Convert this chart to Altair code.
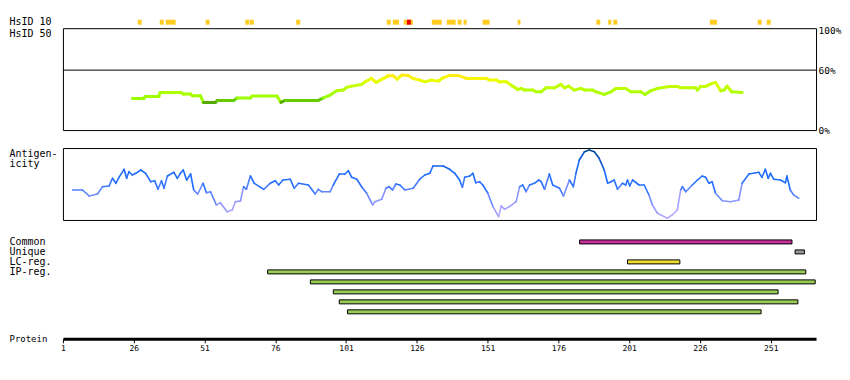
import altair as alt
import pandas as pd

FONT = "DejaVu Sans Mono"
W = 754
X_DOMAIN = [1, 267]

# ---- HsID 10 hits (residue ranges) ----
hs10_start = [27.4, 35.2, 37.3, 51.4, 65.4, 67.0, 83.4, 115.4, 117.5, 121.4, 131.3, 136.6,
              140.4, 142.5, 149.2, 161.6, 189.4, 193.6, 195.4, 229.5, 246.4, 249.6, 122.5]
hs10_end = [28.8, 36.6, 40.8, 52.8, 66.8, 68.4, 84.8, 116.8, 119.7, 124.6, 134.8, 139.7,
            141.8, 143.6, 151.7, 162.6, 190.8, 194.7, 196.8, 232.0, 247.8, 251.0, 123.9]
hs10_kind = ["hit"] * 22 + ["best"]

# ---- HsID 50 profile (% identity) ----
hs50_pos = [25.5, 29.6, 30.0, 34.9, 35.3, 42.5, 43.6, 46.1, 46.7, 49.6, 50.6, 54.9, 55.5, 61.3,
            62.5, 67.2, 67.8, 76.6, 78.0, 79.5, 91.2, 93.0, 95.4, 97.7, 100.0, 101.2, 103.0,
            106.5, 107.7, 110.0, 111.6, 113.6, 115.9, 117.7, 119.1, 120.6, 122.9, 124.7, 127.1,
            128.8, 131.2, 133.5, 135.3, 137.6, 140.5, 143.5, 150.5, 151.7, 154.1, 155.2, 157.6,
            159.3, 161.7, 162.9, 164.0, 167.0, 168.1, 169.9, 171.6, 174.6, 176.9, 178.1, 179.6,
            181.6, 184.0, 185.2, 188.1, 189.3, 192.2, 194.6, 196.3, 199.8, 201.6, 205.1, 206.6,
            208.6, 211.0, 215.1, 218.0, 219.2, 224.5, 225.1, 226.2, 228.0, 230.3, 231.5, 233.3,
            234.5, 235.6, 237.2, 240.9]
hs50_val = [31.7, 31.7, 33.7, 33.7, 37.7, 37.7, 36.0, 36.0, 34.3, 34.3, 27.7, 27.7, 29.7, 29.7,
            32.0, 32.0, 34.0, 34.0, 27.7, 29.7, 29.7, 32.3, 35.0, 39.3, 40.0, 42.7, 44.0,
            45.7, 48.3, 51.7, 47.7, 50.7, 54.3, 54.3, 51.0, 55.0, 54.7, 51.7, 50.0,
            48.3, 50.0, 49.0, 52.3, 54.7, 54.7, 51.7, 51.7, 50.0, 50.0, 48.3, 48.3,
            45.0, 40.7, 41.7, 40.0, 40.0, 38.3, 38.3, 42.3, 42.3, 45.7, 42.3, 44.0,
            40.0, 41.7, 40.0, 40.0, 38.3, 35.7, 38.3, 41.7, 41.7, 38.3, 38.3, 35.7,
            39.3, 41.7, 43.7, 43.7, 42.3, 42.3, 40.0, 43.7, 43.7, 46.7, 47.7, 39.3,
            40.0, 44.0, 38.3, 37.7]
hs50_ref = [60]
hs50_ticks = [0, 60, 100]

# ---- Antigenicity profile ----
ag_pos = [4.4, 7.9, 10.3, 13.2, 15.0, 17.3, 18.5, 19.7, 20.8, 22.6,
          23.5, 24.3, 25.5, 26.7, 28.5, 30.2, 32.0, 33.4, 34.6, 35.8,
          36.7, 37.9, 40.2, 41.4, 42.5, 43.5, 44.7, 46.1, 47.2, 48.6,
          50.5, 51.7, 53.1, 55.2, 56.6, 59.0, 60.8, 61.9, 63.7, 64.8,
          65.8, 67.2, 68.6, 71.9, 74.2, 76.0, 77.2, 78.7, 81.3, 82.7,
          84.2, 87.7, 90.1, 91.2, 92.4, 95.4, 96.5, 98.6, 100.6, 101.8,
          103.0, 104.8, 106.5, 108.3, 110.4, 111.2, 113.6, 115.1, 116.2, 117.4,
          118.6, 120.0, 121.8, 124.7, 127.1, 128.8, 130.6, 131.7, 135.3, 137.6,
          139.4, 141.1, 142.1, 142.9, 144.7, 145.8, 146.8, 148.2, 149.3, 151.1,
          152.9, 154.9, 155.8, 157.0, 158.7, 161.1, 162.3, 163.4, 164.6, 165.8,
          167.5, 169.1, 169.9, 171.1, 172.8, 174.0, 176.4, 177.8, 179.9, 181.3,
          182.2, 183.4, 185.2, 186.9, 188.7, 190.4, 192.2, 193.4, 194.6, 195.7,
          196.9, 198.6, 199.8, 200.4, 201.2, 202.2, 204.5, 206.3, 208.0, 209.2,
          211.0, 214.5, 216.2, 218.0, 219.2, 219.8, 221.0, 223.3, 225.1, 226.8,
          228.0, 229.2, 230.3, 231.5, 233.9, 236.8, 239.7, 240.9, 243.3, 246.8,
          247.9, 249.1, 250.1, 250.9, 252.1, 254.4, 256.2, 256.7, 257.9, 259.1,
          260.9]
ag_val = [30, 30, 24, 26, 33.3, 34, 41.7, 36.7, 42.7, 50.7,
          41.7, 48.3, 45, 46.7, 50, 46.7, 38.3, 39.3, 30.7, 39.3,
          31.7, 44, 47.7, 41.7, 46.7, 50, 40, 46, 30, 26,
          36.7, 27.3, 28.3, 15, 17.3, 8.3, 10, 18.3, 19, 33.3,
          30.7, 44, 36.7, 30.7, 36.7, 39.3, 35, 40, 40.7, 31.7,
          36.7, 35, 26, 30.7, 28.3, 28.3, 35, 46, 46, 49.3,
          42.7, 40.7, 33.3, 26.7, 15, 18.3, 20.7, 31.7, 33.3, 30,
          36, 35, 30, 31.7, 41, 45, 46.7, 54, 54, 50.7,
          46.7, 40, 32.7, 42.7, 44, 46.7, 37.3, 38.3, 35, 26.7,
          13.3, 3.3, 14, 10.7, 13.3, 18.3, 33.3, 35, 28.3, 35,
          36.7, 40, 38.3, 30.7, 46, 35, 31.7, 24, 40, 33.3,
          46.7, 60, 68.3, 70, 68.3, 61.7, 50, 36.7, 38.3, 40,
          30.7, 36.7, 35, 40, 34, 40, 35, 35, 25, 15,
          6.7, 1.7, 5, 10, 30, 33.3, 28.3, 35, 40, 44,
          42.7, 36.7, 38.3, 26.7, 19.3, 18.3, 20, 36.7, 46, 47.7,
          42.7, 50.7, 41.7, 46.7, 40.7, 40, 37.3, 44, 30, 25,
          21.7]

# ---- Region bars ----
bar_row = [0, 1, 2, 3, 4, 5, 6, 7]
bar_kind = ["Common", "Unique", "LC-reg.", "IP-reg.", "IP-reg.", "IP-reg.", "IP-reg.", "IP-reg."]
bar_start = [183.5, 259.6, 200.4, 73.3, 88.4, 96.5, 98.6, 101.5]
bar_end = [258.5, 262.9, 218.9, 263.4, 266.7, 253.6, 260.6, 247.6]
row_labels = ["Common", "Unique", "LC-reg.", "IP-reg.", "", "", "", ""]
kind_names = ["Common", "Unique", "LC-reg.", "IP-reg."]
kind_colors = ["#c8309c", "#999999", "#f0dc30", "#99cc55"]
protein_ticks = [1, 26, 51, 76, 101, 126, 151, 176, 201, 226, 251]

assert len(hs50_pos) == len(hs50_val)
assert len(ag_pos) == len(ag_val)


def segments(pos, val, name):
    df = pd.DataFrame({"pos": pos, name: val})
    df["pos2"] = df["pos"].shift(-1)
    df[name + "2"] = df[name].shift(-1)
    return df.dropna()


def spacer(h, name):
    return alt.Chart(pd.DataFrame({name: [0]})).mark_point(opacity=0).encode(
        x=alt.X(name + ":Q", axis=None), y=alt.Y(name + ":Q", axis=None)
    ).properties(width=W, height=h, view=alt.ViewBackground(stroke=None))


xs = alt.Scale(domain=X_DOMAIN, zero=False, nice=False)

# Panel A: HsID 10 hits
dfA = pd.DataFrame({"start": hs10_start, "end": hs10_end, "hkind": hs10_kind,
                    "track": ["HsID 10"] * len(hs10_start)})
A = alt.Chart(dfA).mark_bar(size=5).encode(
    x=alt.X("start:Q", scale=xs, axis=None),
    x2="end:Q",
    y=alt.Y("track:N", scale=alt.Scale(paddingInner=0, paddingOuter=0),
            axis=alt.Axis(title=None, ticks=False, tickSize=0, domain=False,
                          labelAlign="left", labelPadding=54, labelBaseline="middle")),
    color=alt.Color("hkind:N", scale=alt.Scale(domain=["hit", "best"], range=["#ffcc22", "#ee0000"]),
                    legend=None),
).properties(width=W, height=10, view=alt.ViewBackground(stroke=None))

# Panel B: HsID 50
ys50 = alt.Scale(domain=[0, 102], zero=False, nice=False)
y50axis = alt.Axis(orient="right", values=hs50_ticks, labelExpr="datum.value + '%'",
                   ticks=False, tickSize=0, domain=False, grid=False, labelPadding=2,
                   labelFontSize=9.5, labelBaseline="middle",
                   title="HsID 50", titleAngle=0, titleAlign="left",
                   titleBaseline="middle", titleX=-(W + 54), titleY=5)
seg50 = segments(hs50_pos, hs50_val, "hid")
B_line = alt.Chart(seg50).mark_rule(strokeWidth=3, strokeCap="round").encode(
    x=alt.X("pos:Q", scale=xs, axis=None),
    x2="pos2:Q",
    y=alt.Y("hid:Q", scale=ys50, axis=y50axis),
    y2="hid2:Q",
    color=alt.Color("hid:Q", scale=alt.Scale(domain=[27.7, 29.7, 31.7, 40, 46, 50, 54],
                                             range=["#55aa00", "#66cc00", "#99ff00", "#b4ff00",
                                                    "#ccff00", "#eeff00", "#ffee11"]),
                    legend=None),
)
B_ref = alt.Chart(pd.DataFrame({"hid": hs50_ref})).mark_rule(color="black", strokeWidth=1).encode(
    y=alt.Y("hid:Q", scale=ys50, axis=y50axis)
)
B = alt.layer(B_ref, B_line).resolve_scale(color="independent").properties(width=W, height=102)

# Panel C: Antigenicity
ysag = alt.Scale(domain=[0, 72], zero=False, nice=False)
agaxis = alt.Axis(labels=False, ticks=False, tickSize=0, domain=False, grid=False,
                  title=["Antigen-", "icity"], titleAngle=0, titleAlign="left",
                  titleBaseline="top", titleX=-54, titleY=0, titleLineHeight=10)
C = alt.Chart(segments(ag_pos, ag_val, "ag")).mark_rule(strokeWidth=1.6, strokeCap="round").encode(
    x=alt.X("pos:Q", scale=xs, axis=None),
    x2="pos2:Q",
    y=alt.Y("ag:Q", scale=ysag, axis=agaxis),
    y2="ag2:Q",
    color=alt.Color("ag:Q", scale=alt.Scale(domain=[2, 12, 25, 35, 50, 62, 70],
                                            range=["#b5aaff", "#a5a0ff", "#6e8cff", "#2a72ff",
                                                   "#1a6aff", "#0a56c8", "#004a99"]),
                    legend=None),
).properties(width=W, height=72)

# Panel D: region bars + protein axis
dfD = pd.DataFrame({"rowi": bar_row, "bkind": bar_kind, "start": bar_start, "end": bar_end})
label_expr = "[" + ",".join("'%s'" % l for l in row_labels) + "][datum.value]"
D = alt.Chart(dfD).mark_bar(size=4, stroke="black", strokeWidth=1).encode(
    x=alt.X("start:Q", scale=xs,
            axis=alt.Axis(values=protein_ticks, offset=22, domainWidth=3, domainColor="black",
                          tickColor="black", tickSize=4, tickWidth=1, labelPadding=2,
                          labelFontSize=8, labelFlush=False, labelOverlap=False, grid=False,
                          title="Protein", titleAngle=0, titleAlign="left", titleBaseline="middle",
                          titleX=-54, titleY=0, titleFontSize=9)),
    x2="end:Q",
    y=alt.Y("rowi:O", scale=alt.Scale(domain=bar_row, paddingInner=0, paddingOuter=0),
            axis=alt.Axis(title=None, labelExpr=label_expr, ticks=False, tickSize=0, domain=False,
                          labelAlign="left", labelPadding=54, labelBaseline="middle")),
    color=alt.Color("bkind:N", scale=alt.Scale(domain=kind_names, range=kind_colors), legend=None),
).properties(width=W, height=80, view=alt.ViewBackground(stroke=None))

chart = alt.vconcat(
    A, B, spacer(16, "s1"), C, spacer(15, "s2"), D, spacing=1, bounds="flush"
).resolve_scale(
    color="independent"
).properties(
    padding={"left": 0, "top": 8, "right": 0, "bottom": 2}
).configure_axis(
    labelFont=FONT, titleFont=FONT, labelFontSize=10, titleFontSize=10,
    titleFontWeight="normal", labelColor="black", titleColor="black", grid=False
).configure_view(stroke="black", strokeWidth=1)

chart.save("out.html", embed_options={"renderer": "svg", "actions": False})
